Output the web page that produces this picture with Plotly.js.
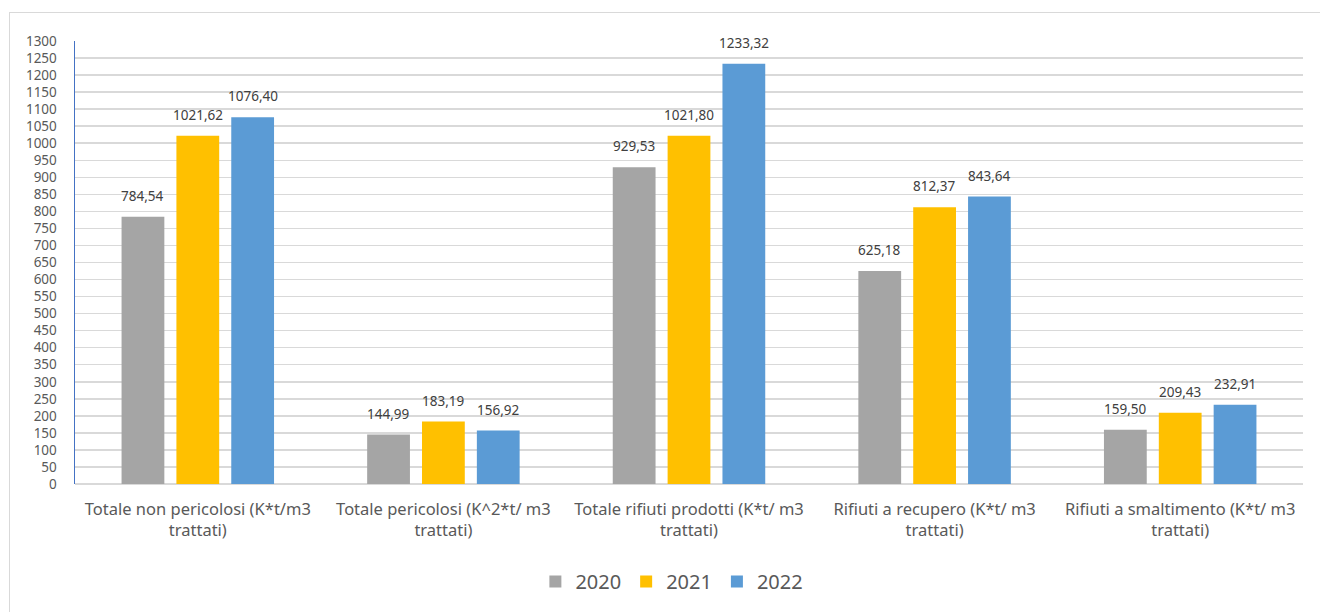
<!DOCTYPE html>
<html><head><meta charset="utf-8">
<script src="https://cdn.plot.ly/plotly-3.0.1.min.js"></script>
<style>
html,body{margin:0;padding:0;background:#fff;overflow:hidden;}
#frame{position:absolute;left:9px;top:12px;width:1330px;height:640px;border-left:1px solid #d9d9d9;border-top:1px solid #d9d9d9;}
#chart{position:absolute;left:0;top:0;width:1320px;height:612px;}
</style></head>
<body>
<div id="frame"></div>
<div id="chart"></div>
<script>
const categories = [
  "Totale non pericolosi (K*t/m3<br>trattati)",
  "Totale pericolosi (K^2*t/ m3<br>trattati)",
  "Totale rifiuti prodotti (K*t/ m3<br>trattati)",
  "Rifiuti a recupero (K*t/ m3<br>trattati)",
  "Rifiuti a smaltimento (K*t/ m3<br>trattati)"
];
const seriesNames = ["2020", "2021", "2022"];
const values2020 = [784.54, 144.99, 929.53, 625.18, 159.50];
const values2021 = [1021.62, 183.19, 1021.80, 812.37, 209.43];
const values2022 = [1076.40, 156.92, 1233.32, 843.64, 232.91];
const colors = ["#a5a5a5", "#ffc000", "#5b9bd5"];
const tickVals = [];
for (let v = 0; v <= 1300; v += 50) tickVals.push(v);

const FONT = '"Noto Sans", sans-serif';
const fmt = v => v.toFixed(2).replace('.', ',');
const all = [values2020, values2021, values2022];
const traces = all.map((vals, i) => ({
  type: 'bar',
  name: seriesNames[i],
  x: categories,
  y: vals,
  marker: {color: colors[i]},
  textposition: 'none',
  hoverinfo: 'none',
  offsetgroup: String(i)
}));

// data labels as annotations placed above each bar via the axis scale
const annotations = [];
const slot = 0.67 / 3;
all.forEach((vals, i) => {
  vals.forEach((v, c) => {
    annotations.push({
      xref: 'x', yref: 'y',
      x: c + (i - 1) * slot,
      y: v,
      text: fmt(v),
      showarrow: false,
      yanchor: 'middle',
      yshift: 21,
      font: {family: FONT, size: 13.5, color: '#404040'}
    });
  });
});

const layout = {
  width: 1320, height: 612,
  margin: {l: 75, r: 17, t: 41, b: 128},
  paper_bgcolor: 'rgba(0,0,0,0)',
  plot_bgcolor: 'rgba(0,0,0,0)',
  barmode: 'group',
  bargap: 0.33,
  bargroupgap: 0.22,
  font: {family: FONT, color: '#595959'},
  xaxis: {
    type: 'category',
    tickfont: {size: 16.5, color: '#595959'},
    showgrid: false,
    showline: false,
    ticks: '',
    ticklabelstandoff: 13,
    fixedrange: true
  },
  yaxis: {
    range: [0, 1300],
    tickvals: tickVals,
    ticktext: tickVals.map(String),
    tickfont: {size: 13.5, color: '#595959'},
    gridcolor: '#d9d9d9',
    gridwidth: 1.5,
    zeroline: true,
    zerolinecolor: '#d9d9d9',
    zerolinewidth: 1.5,
    showline: true,
    linecolor: '#4472c4',
    linewidth: 1.5,
    ticks: '',
    ticklabelstandoff: 14,
    fixedrange: true
  },
  annotations: annotations,
  legend: {
    orientation: 'h',
    x: 0.509, xanchor: 'center',
    xref: 'container',
    y: 0.05, yanchor: 'middle',
    yref: 'container',
    font: {size: 20, color: '#595959'},
    itemwidth: 30,
    traceorder: 'normal'
  },
  showlegend: true
};

Plotly.newPlot('chart', traces, layout, {displayModeBar: false, staticPlot: true});
</script>
</body></html>
